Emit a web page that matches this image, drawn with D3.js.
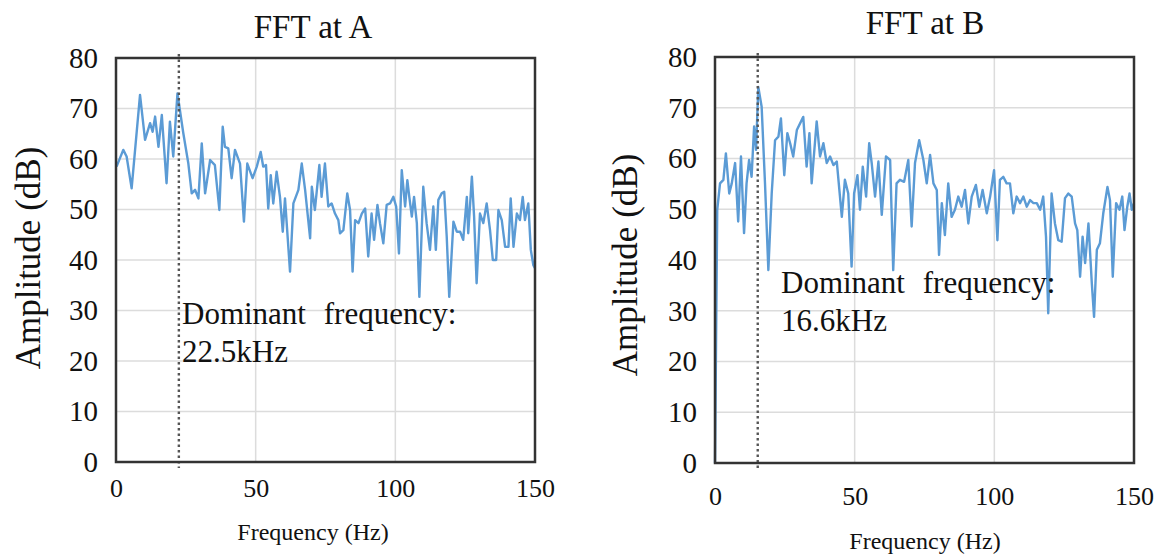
<!DOCTYPE html>
<html><head><meta charset="utf-8">
<script src="https://cdn.jsdelivr.net/npm/d3@7"></script>
<style>body{margin:0;background:#fff}svg{display:block}text{font-family:"Liberation Serif","Times New Roman",serif;fill:#111}</style>
</head><body><svg id="c" width="1159" height="555"></svg>
<script>
const xTicks = [0, 50, 100, 150];
const yTicks = [0, 10, 20, 30, 40, 50, 60, 70, 80];
const titles = ["FFT at A", "FFT at B"];
const domLabels = ["22.5kHz", "16.6kHz"];
const domLines = [22.5, 15.3];

const freqA = [0.2,2.6,3.8,5.6,8.6,10.4,12.2,13.1,14.0,15.2,16.4,18.1,19.3,20.5,22.0,24.1,25.9,27.1,28.3,29.5,30.7,31.9,33.7,35.4,37.0,38.2,39.0,40.2,41.4,42.6,44.4,45.8,47.0,48.9,50.4,51.8,52.7,53.7,54.5,55.4,56.3,57.5,58.7,59.7,60.5,62.3,63.5,65.3,66.5,67.7,69.5,70.1,71.2,72.8,73.6,74.8,76.0,77.2,78.4,79.6,80.2,81.4,82.8,83.8,84.7,85.6,86.8,88.0,89.2,90.3,91.5,92.4,93.6,94.5,95.7,96.9,98.1,99.3,100.3,101.3,102.3,103.5,104.3,105.0,105.9,106.7,107.7,108.6,110.0,111.2,112.4,113.6,114.5,115.4,116.6,117.5,118.4,119.3,120.8,122.0,123.2,124.3,125.6,126.1,127.4,128.2,129.1,130.3,131.5,132.7,133.9,134.9,136.1,136.9,138.1,139.3,140.5,141.3,142.3,143.5,144.6,145.6,146.4,147.6,148.5,149.4,150.0];
const ampA = [58.5,61.8,60.5,54.2,72.7,63.8,67.1,65.4,68.4,62.4,68.7,55.2,67.4,60.5,73.0,65.1,59.1,53.2,53.9,52.2,63.1,53.2,59.8,58.8,49.9,66.4,62.4,62.1,56.2,61.8,59.1,47.6,59.1,56.2,58.5,61.4,58.5,58.8,50.2,56.8,51.2,57.5,52.5,45.6,52.2,37.7,51.2,53.9,59.1,53.9,44.3,54.5,49.9,58.8,52.5,59.1,50.6,51.2,49.2,47.9,45.3,45.9,53.2,49.9,37.7,47.9,47.3,49.2,50.2,40.7,49.2,44.0,50.9,47.3,43.3,50.9,51.2,52.5,50.6,41.3,57.8,50.6,55.8,52.5,48.6,52.5,47.3,32.7,54.5,47.3,42.0,50.6,42.0,51.9,53.2,53.5,44.6,32.7,47.6,45.6,45.6,44.0,52.5,45.3,56.5,48.6,35.4,49.2,47.3,51.2,45.9,40.0,40.0,49.9,47.9,42.6,42.6,52.2,42.6,49.2,47.9,52.5,47.9,51.2,42.0,39.0,38.4];

const freqB = [0.0,0.8,1.8,3.0,3.9,5.1,6.0,7.2,8.3,9.3,10.4,11.3,12.2,13.1,14.0,14.7,15.5,16.7,17.9,19.1,20.3,21.5,22.7,23.6,24.8,25.9,26.9,28.0,29.3,31.6,32.8,33.8,34.6,36.4,37.6,38.8,40.0,41.2,42.4,43.6,45.4,46.5,47.7,48.9,49.8,51.0,51.9,52.9,54.1,55.2,56.1,57.3,58.5,59.7,61.2,62.7,63.8,65.0,66.2,67.7,69.2,70.4,71.6,73.1,74.6,75.8,77.0,78.2,79.4,80.2,81.2,82.3,83.5,84.7,85.9,87.1,88.3,89.5,90.7,91.9,93.4,94.6,95.8,97.3,98.5,99.9,101.1,102.0,103.2,104.4,105.6,106.8,108.0,109.2,110.4,111.6,112.8,114.0,115.2,116.4,117.5,118.5,119.3,120.5,121.7,122.9,124.1,125.3,126.5,127.7,128.9,129.7,130.7,131.6,132.5,133.7,134.9,135.7,136.7,137.8,139.0,140.5,141.4,142.4,143.6,144.8,145.8,146.6,147.6,148.4,149.2,150.0];
const ampB = [0.0,49.9,55.1,55.8,61.0,53.1,55.1,59.1,47.6,60.4,45.3,55.1,59.7,56.4,66.3,61.7,74.1,70.2,55.1,38.0,53.1,63.6,64.3,67.9,56.7,65.0,63.0,60.4,65.6,68.2,58.4,65.0,55.1,67.3,60.4,63.0,59.1,60.4,58.7,59.4,48.5,55.8,53.1,38.7,53.1,56.7,49.9,58.4,52.5,63.0,59.1,52.5,59.4,48.9,60.4,59.7,38.0,55.1,55.8,55.4,59.7,46.6,59.1,63.6,59.7,55.1,60.7,55.1,53.8,41.0,51.2,44.9,55.1,48.5,49.9,52.5,50.5,53.8,47.2,52.5,54.8,50.5,53.8,49.2,52.5,57.7,43.9,55.8,56.4,55.1,55.1,49.2,52.5,51.2,52.5,50.5,51.8,51.2,51.2,49.9,52.5,44.6,29.5,53.1,47.2,43.9,43.6,52.2,53.1,52.5,47.2,45.9,36.7,44.6,39.4,47.2,35.4,28.8,42.0,43.3,49.2,54.4,51.8,36.7,51.2,49.9,52.5,45.9,50.5,53.1,49.9,51.2];

const svg = d3.select("#c");

const panels = [
  {x0: 116, x1: 535, y0: 58, y1: 462, freq: freqA, amp: ampA, i: 0,
   titleX: 313, titleY: 38, ytX: 40, ytY: 258, xtY: 540, xlY: 497,
   annX: 182, annY: 324},
  {x0: 715, x1: 1134, y0: 57, y1: 463, freq: freqB, amp: ampB, i: 1,
   titleX: 925, titleY: 34, ytX: 637, ytY: 265, xtY: 549, xlY: 505,
   annX: 781, annY: 293}
];

panels.forEach(p => {
  const g = svg.append("g");
  const x = d3.scaleLinear().domain([0, 150]).range([p.x0, p.x1]);
  const y = d3.scaleLinear().domain([0, 80]).range([p.y1, p.y0]);

  // gridlines
  g.append("g").selectAll("line").data(yTicks.filter(d => d > 0 && d < 80)).join("line")
    .attr("x1", p.x0).attr("x2", p.x1).attr("y1", d => y(d)).attr("y2", d => y(d))
    .attr("stroke", "#dcdcdc").attr("stroke-width", 1.5);
  g.append("g").selectAll("line").data(xTicks.filter(d => d > 0 && d < 150)).join("line")
    .attr("x1", d => x(d)).attr("x2", d => x(d)).attr("y1", p.y0).attr("y2", p.y1)
    .attr("stroke", "#dcdcdc").attr("stroke-width", 1.5);

  // series
  const line = d3.line().x((d, k) => x(p.freq[k])).y(d => y(d));
  g.append("path").datum(p.amp).attr("d", line)
    .attr("fill", "none").attr("stroke", "#5b9bd5").attr("stroke-width", 2.4)
    .attr("stroke-linejoin", "round");

  // dominant frequency marker
  g.append("line").attr("x1", x(domLines[p.i])).attr("x2", x(domLines[p.i]))
    .attr("y1", p.y0 - 4).attr("y2", p.y1 + 6)
    .attr("stroke", "#555").attr("stroke-width", 2.4).attr("stroke-dasharray", "2.5,3");

  // frame
  g.append("rect").attr("x", p.x0).attr("y", p.y0).attr("width", p.x1 - p.x0).attr("height", p.y1 - p.y0)
    .attr("fill", "none").attr("stroke", "#333").attr("stroke-width", 2.5);

  // axes tick labels
  const ya = d3.axisLeft(y).tickValues(yTicks).tickSize(0).tickPadding(0);
  const yg = g.append("g").attr("transform", `translate(${p.x0 - 18},0)`).call(ya);
  yg.select(".domain").remove();
  yg.attr("font-family", null);
  yg.selectAll("text").attr("font-size", 29).attr("fill", "#111");

  const xa = d3.axisBottom(x).tickValues(xTicks).tickSize(0).tickPadding(0);
  const xg = g.append("g").attr("transform", `translate(0,${p.xlY})`).call(xa);
  xg.select(".domain").remove();
  xg.attr("font-family", null);
  xg.selectAll("text").attr("font-size", 26).attr("fill", "#111")
    .attr("dy", "0").attr("y", 0);

  // titles
  g.append("text").attr("x", p.titleX).attr("y", p.titleY).attr("text-anchor", "middle")
    .attr("font-size", 33).text(titles[p.i]);
  g.append("text").attr("x", p.titleX).attr("y", p.xtY).attr("text-anchor", "middle")
    .attr("font-size", 24).text("Frequency (Hz)");
  g.append("text").attr("transform", `translate(${p.ytX},${p.ytY}) rotate(-90)`)
    .attr("text-anchor", "middle").attr("font-size", 35).text("Amplitude (dB)");

  // annotation
  g.append("text").attr("x", p.annX).attr("y", p.annY).attr("font-size", 31)
    .attr("word-spacing", 10).text("Dominant frequency:");
  g.append("text").attr("x", p.annX).attr("y", p.annY + 38).attr("font-size", 31)
    .text(domLabels[p.i]);
});
</script></body></html>
